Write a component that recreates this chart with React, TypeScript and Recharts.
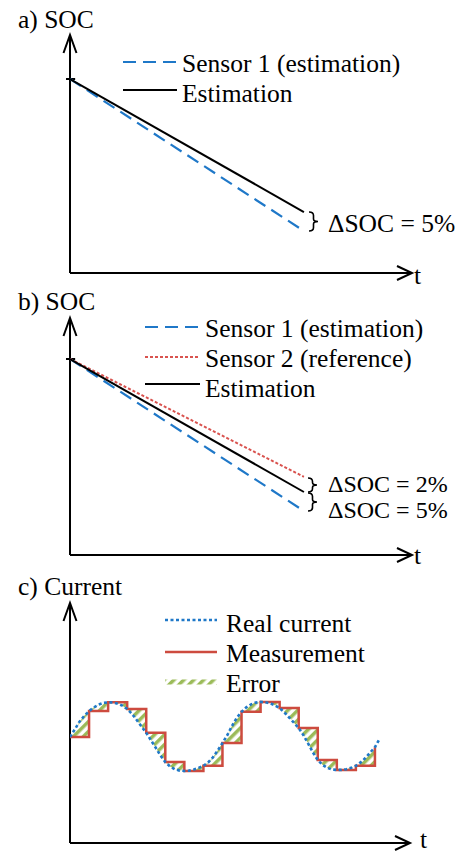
import React from 'react';
import { ComposedChart, Line, Area, XAxis, YAxis, ReferenceLine } from 'recharts';

// a) and b): time in arbitrary units, SOC in %
const socTime = [0, 10];
const socSensor1A = [100, 60];
const socEstimationA = [100, 65];
const socSensor1B = [100, 60];
const socSensor2B = [100, 69];
const socEstimationB = [100, 65];

// c): sampled measurement (held between samples) and the real current every 0.25 t
const sampleTime = [0, 1, 2, 3, 4, 5, 6, 7, 8, 9, 10, 11, 12, 13, 14, 15, 16];
const measuredCurrent = [0, 0.76, 1.02, 0.82, 0.12, -0.74, -1.0, -0.85, -0.18, 0.74, 1.03, 0.85, 0.26, -0.68, -0.97, -0.85, -0.3];
const realCurrent = [
  0.0, 0.22, 0.45, 0.62,
  0.76, 0.87, 0.95, 1.0,
  1.02, 1.01, 0.98, 0.92,
  0.82, 0.68, 0.5, 0.31,
  0.12, -0.1, -0.32, -0.55,
  -0.74, -0.87, -0.95, -0.99,
  -1.0, -0.99, -0.96, -0.91,
  -0.85, -0.75, -0.6, -0.4,
  -0.18, 0.05, 0.32, 0.56,
  0.74, 0.87, 0.96, 1.01,
  1.03, 1.02, 0.99, 0.93,
  0.85, 0.72, 0.57, 0.42,
  0.26, 0.05, -0.2, -0.46,
  -0.68, -0.82, -0.91, -0.96,
  -0.97, -0.97, -0.95, -0.91,
  -0.85, -0.75, -0.62, -0.46,
  -0.3, -0.05,
];

const BLUE = '#1f78c8';
const RED = '#d9534f';
const MEAS = '#cd4b3f';
const GREEN = '#9bbb59';
const FONT = 'Liberation Serif, Times New Roman, serif';

const socA = socTime.map((t, i) => ({ t, s1: socSensor1A[i], est: socEstimationA[i] }));
const socB = socTime.map((t, i) => ({ t, s1: socSensor1B[i], s2: socSensor2B[i], est: socEstimationB[i] }));

const lastSample = sampleTime[sampleTime.length - 1];
const currentRows: any[] = [];
realCurrent.forEach((v, i) => {
  const t = i / 4;
  if (t > lastSample) {
    currentRows.push({ t, real: v });
    return;
  }
  const k = Math.floor(t);
  if (Number.isInteger(t) && k > 0) {
    const prev = measuredCurrent[k - 1];
    currentRows.push({ t, real: v, err: [Math.min(prev, v), Math.max(prev, v)] });
  }
  const hold = measuredCurrent[k];
  currentRows.push({
    t,
    real: v,
    meas: Number.isInteger(t) ? hold : undefined,
    err: [Math.min(hold, v), Math.max(hold, v)],
  });
});

// the two axis lines, drawn along the edges of the plotting area
const axes = (xMax: number, yMin: number, yMax: number) => [
  <ReferenceLine key="ya" segment={[{ x: 0, y: yMin }, { x: 0, y: yMax }]} stroke="#000" strokeWidth={2} ifOverflow="visible" />,
  <ReferenceLine key="xa" segment={[{ x: 0, y: yMin }, { x: xMax, y: yMin }]} stroke="#000" strokeWidth={2} ifOverflow="visible" />,
];

const SocChart = ({ data, top, height, margin, xMax, yDomain, withS2 }: any) => (
  <div style={{ position: 'absolute', left: 0, top }}>
    <ComposedChart width={463} height={height} data={data} margin={margin}>
      <XAxis type="number" dataKey="t" domain={[0, xMax]} allowDataOverflow hide />
      <YAxis type="number" domain={yDomain} allowDataOverflow hide />
      {axes(xMax, yDomain[0], yDomain[1])}
      <ReferenceLine segment={[{ x: -0.17, y: 100 }, { x: 0.22, y: 100 }]} stroke="#000" strokeWidth={2} ifOverflow="visible" />
      <Line type="linear" dataKey="s1" stroke={BLUE} strokeWidth={2.2} strokeDasharray="13 7" dot={false} activeDot={false} isAnimationActive={false} />
      {withS2 && (
        <Line type="linear" dataKey="s2" stroke={RED} strokeWidth={2} strokeDasharray="3 2" dot={false} activeDot={false} isAnimationActive={false} />
      )}
      <Line type="linear" dataKey="est" stroke="#000" strokeWidth={2} dot={false} activeDot={false} isAnimationActive={false} />
    </ComposedChart>
  </div>
);

const CurrentChart = () => (
  <div style={{ position: 'absolute', left: 0, top: 570 }}>
    <ComposedChart width={463} height={284} data={currentRows} margin={{ top: 33, right: 53, bottom: 11, left: 70 }}>
      <defs>
        <pattern id="hatchC" patternUnits="userSpaceOnUse" width="7" height="7" patternTransform="rotate(45)">
          <rect x="0" y="0" width="3.5" height="7" fill={GREEN} />
        </pattern>
      </defs>
      <XAxis type="number" dataKey="t" domain={[0, 17.84]} allowDataOverflow hide />
      <YAxis type="number" domain={[-3.12, 3.94]} allowDataOverflow hide />
      {axes(17.84, -3.12, 3.94)}
      <Area type="linear" dataKey="err" stroke="none" fill="url(#hatchC)" fillOpacity={1} dot={false} activeDot={false} isAnimationActive={false} />
      <Line type="stepAfter" dataKey="meas" stroke={MEAS} strokeWidth={2.5} connectNulls dot={false} activeDot={false} isAnimationActive={false} />
      <Line type="linear" dataKey="real" stroke={BLUE} strokeWidth={2.6} strokeDasharray="3 2.5" dot={false} activeDot={false} isAnimationActive={false} />
    </ComposedChart>
  </div>
);

const brace = (x: number, y1: number, y2: number) => {
  const m = (y1 + y2) / 2;
  const c = x + 4.5;
  return `M ${x} ${y1} Q ${c} ${y1} ${c} ${y1 + 3.5} L ${c} ${m - 2.5} Q ${c} ${m} ${x + 9} ${m} Q ${c} ${m} ${c} ${m + 2.5} L ${c} ${y2 - 3.5} Q ${c} ${y2} ${x} ${y2}`;
};

const arrowUp = (x: number, y: number) => `M ${x - 6.5} ${y + 18} L ${x} ${y} L ${x + 6.5} ${y + 18}`;
const arrowRight = (x: number, y: number) => `M ${x - 15} ${y - 7} L ${x} ${y} L ${x - 15} ${y + 7}`;

const Overlay = () => {
  const txt = { style: { fontFamily: FONT, fontSize: 25.5 }, fill: '#000' };
  const small = { style: { fontFamily: FONT, fontSize: 24 }, fill: '#000' };
  return (
    <svg width={463} height={854} style={{ position: 'absolute', left: 0, top: 0, pointerEvents: 'none' }}>
      <defs>
        <pattern id="hatchL" patternUnits="userSpaceOnUse" width="7" height="7" patternTransform="rotate(45)">
          <rect x="0" y="0" width="3.5" height="7" fill={GREEN} />
        </pattern>
      </defs>
      <g fill="none" stroke="#000" strokeWidth={2}>
        <path d={arrowUp(70, 35)} />
        <path d={arrowRight(412, 273)} />
        <path d={arrowUp(70, 318)} />
        <path d={arrowRight(412, 555)} />
        <path d={arrowUp(70, 603)} />
        <path d={arrowRight(410, 843)} />
      </g>
      <g fill="none" stroke="#000" strokeWidth={1.6}>
        <path d={brace(309, 212, 231)} />
        <path d={brace(308, 478, 492)} />
        <path d={brace(308, 493, 511)} />
      </g>

      {/* a) */}
      <text x={18} y={28} {...txt}>a) SOC</text>
      <line x1={123} y1={62} x2={177} y2={62} stroke={BLUE} strokeWidth={2.2} strokeDasharray="13 7" />
      <text x={182} y={72} {...txt}>Sensor 1 (estimation)</text>
      <line x1={123} y1={90} x2={177} y2={90} stroke="#000" strokeWidth={2} />
      <text x={182} y={102} {...txt}>Estimation</text>
      <text x={328} y={232} {...txt}>ΔSOC = 5%</text>
      <text x={414} y={284} {...txt}>t</text>

      {/* b) */}
      <text x={18} y={310} {...txt}>b) SOC</text>
      <line x1={145} y1={327} x2={200} y2={327} stroke={BLUE} strokeWidth={2.2} strokeDasharray="13 7" />
      <text x={205} y={337} {...txt}>Sensor 1 (estimation)</text>
      <line x1={145} y1={357} x2={200} y2={357} stroke={RED} strokeWidth={2} strokeDasharray="3 2" />
      <text x={205} y={367} {...txt}>Sensor 2 (reference)</text>
      <line x1={145} y1={384} x2={200} y2={384} stroke="#000" strokeWidth={2} />
      <text x={205} y={397} {...txt}>Estimation</text>
      <text x={328} y={492} {...small}>ΔSOC = 2%</text>
      <text x={328} y={518} {...small}>ΔSOC = 5%</text>
      <text x={414} y={564} {...txt}>t</text>

      {/* c) */}
      <text x={18} y={595} {...txt}>c) Current</text>
      <line x1={165} y1={620} x2={217} y2={620} stroke={BLUE} strokeWidth={2.6} strokeDasharray="3 2.5" />
      <text x={226} y={632} {...txt}>Real current</text>
      <line x1={165} y1={652} x2={217} y2={652} stroke={MEAS} strokeWidth={2.5} />
      <text x={226} y={662} {...txt}>Measurement</text>
      <rect x={165} y={679.5} width={52} height={5} fill="url(#hatchL)" />
      <text x={226} y={692} {...txt}>Error</text>
      <text x={420} y={848} {...txt}>t</text>
    </svg>
  );
};

export default function App() {
  return (
    <div style={{ position: 'absolute', left: 0, top: 0, width: 463, height: 854, background: '#fff', overflow: 'hidden' }}>
      <SocChart
        data={socA}
        top={0}
        height={290}
        margin={{ top: 35, right: 51, bottom: 17, left: 70 }}
        xMax={14.62}
        yDomain={[48.95, 111.58]}
      />
      <SocChart
        data={socB}
        top={290}
        height={280}
        margin={{ top: 28, right: 51, bottom: 15, left: 70 }}
        xMax={14.62}
        yDomain={[48.42, 110.79]}
        withS2
      />
      <CurrentChart />
      <Overlay />
    </div>
  );
}
